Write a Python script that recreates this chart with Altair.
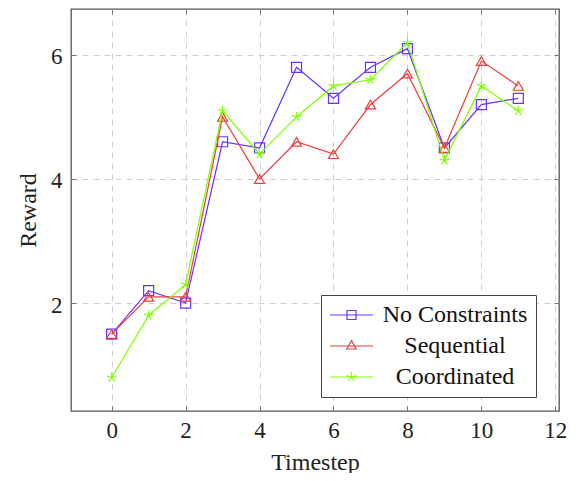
import altair as alt
import pandas as pd

timesteps = list(range(12))
series_names = ["No Constraints", "Sequential", "Coordinated"]
no_constraints = [1.5, 2.2, 2.0, 4.6, 4.5, 5.8, 5.3, 5.8, 6.1, 4.5, 5.2, 5.3]
sequential = [1.5, 2.1, 2.1, 5.0, 4.0, 4.6, 4.4, 5.2, 5.7, 4.5, 5.9, 5.5]
coordinated = [0.8, 1.8, 2.3, 5.1, 4.4, 5.0, 5.5, 5.6, 6.2, 4.3, 5.5, 5.1]
colors = ["#6633FF", "#E8413C", "#7FFF00"]
x_ticks = [0, 2, 4, 6, 8, 10, 12]
y_ticks = [2, 4, 6]

STAR = "M0,0L0,-1M0,0L0.951,-0.309M0,0L0.588,0.809M0,0L-0.588,0.809M0,0L-0.951,-0.309"
plot_shapes = ["square", "triangle-up", STAR]
legend_shapes = [
    "M-1,0H1M-0.21,-0.21H0.21V0.21H-0.21Z",
    "M-1,0H1M0,-0.25L0.22,0.14L-0.22,0.14Z",
    "M-1,0H1M0,0L0,-0.23M0,0L0.219,-0.071M0,0L0.135,0.186M0,0L-0.135,0.186M0,0L-0.219,-0.071",
]

df = pd.DataFrame({
    "t": timesteps * 3,
    "reward": no_constraints + sequential + coordinated,
    "series": [n for n in series_names for _ in timesteps],
})

FONT = "Liberation Serif"
x_scale = alt.Scale(domain=[-1.1, 12.1], nice=False, zero=False)
y_scale = alt.Scale(domain=[0.26, 6.74], nice=False, zero=False)

x_axis_main = alt.Axis(
    values=x_ticks, title="Timestep", grid=True, ticks=True, tickSize=5, offset=-5,
    tickColor="#777", tickWidth=1,
    domain=False, labelFont=FONT, labelFontSize=23, labelColor="#222",
    labelBaseline="alphabetic", labelPadding=26,
    titleFont=FONT, titleFontSize=24, titleFontWeight="normal", titleColor="#222",
    titleBaseline="alphabetic", titleY=63,
    gridColor="#cfcfcf", gridDash=[6, 5], gridWidth=1,
)
y_axis_main = alt.Axis(
    values=y_ticks, title="Reward", grid=True, ticks=True, tickSize=5, offset=-5,
    tickColor="#777", tickWidth=1,
    domain=False, labelFont=FONT, labelFontSize=23, labelColor="#222",
    labelBaseline="middle", labelPadding=9, labelOffset=2,
    titleFont=FONT, titleFontSize=24, titleFontWeight="normal", titleColor="#222",
    titleBaseline="alphabetic", titleX=-41,
    gridColor="#cfcfcf", gridDash=[6, 5], gridWidth=1,
)
x_axis_top = alt.Axis(
    orient="top", values=x_ticks, title=None, grid=False, labels=False, domain=False,
    ticks=True, tickSize=5, offset=-5, tickColor="#777", tickWidth=1,
)
y_axis_right = alt.Axis(
    orient="right", values=y_ticks, title=None, grid=False, labels=False, domain=False,
    ticks=True, tickSize=5, offset=-5, tickColor="#777", tickWidth=1,
)

base = alt.Chart(df)

layers = []
first = True
for name, col, shp in zip(series_names, colors, plot_shapes):
    sub = base.transform_filter(alt.datum.series == name)
    if first:
        xe = alt.X("t:Q", scale=x_scale, axis=x_axis_main)
        ye = alt.Y("reward:Q", scale=y_scale, axis=y_axis_main)
        first = False
    else:
        xe = alt.X("t:Q", scale=x_scale, axis=None)
        ye = alt.Y("reward:Q", scale=y_scale, axis=None)
    layers.append(sub.mark_line(strokeWidth=1.2, color=col).encode(x=xe, y=ye))
    layers.append(
        sub.mark_point(shape=shp, filled=False, size=100, strokeWidth=1.2, opacity=1, color=col)
        .encode(x=alt.X("t:Q", scale=x_scale, axis=None), y=alt.Y("reward:Q", scale=y_scale, axis=None))
    )

leg = alt.Legend(
    title=None, orient="none", legendX=250, legendY=286,
    labelFont=FONT, labelFontSize=24, labelColor="#111", labelAlign="center",
    labelOffset=81, padding=8, rowPadding=7, clipHeight=24,
    symbolSize=1849, symbolStrokeWidth=1.2, symbolFillColor="transparent",
    symbolOpacity=1, strokeColor="#444", fillColor="white", symbolOffset=0,
)

legend_layer = (
    base.mark_point(filled=False, opacity=1, strokeWidth=1.2, size=0)
    .encode(
        x=alt.X("t:Q", scale=x_scale, axis=x_axis_top),
        y=alt.Y("reward:Q", scale=y_scale, axis=y_axis_right),
        stroke=alt.Stroke("series:N", scale=alt.Scale(domain=series_names, range=colors), legend=leg),
        shape=alt.Shape("series:N", scale=alt.Scale(domain=series_names, range=legend_shapes), legend=leg),
    )
)

chart = (
    alt.layer(*layers, legend_layer)
    .resolve_axis(x="independent", y="independent")
    .properties(
        width=488, height=402,
        autosize=alt.AutoSizeParams(type="none"),
        padding={"left": 63, "top": 1, "right": 17, "bottom": 62},
    )
    .configure_view(stroke="#555", strokeWidth=1.3)
)

chart.save("out.html", embed_options={"renderer": "svg", "actions": False})
